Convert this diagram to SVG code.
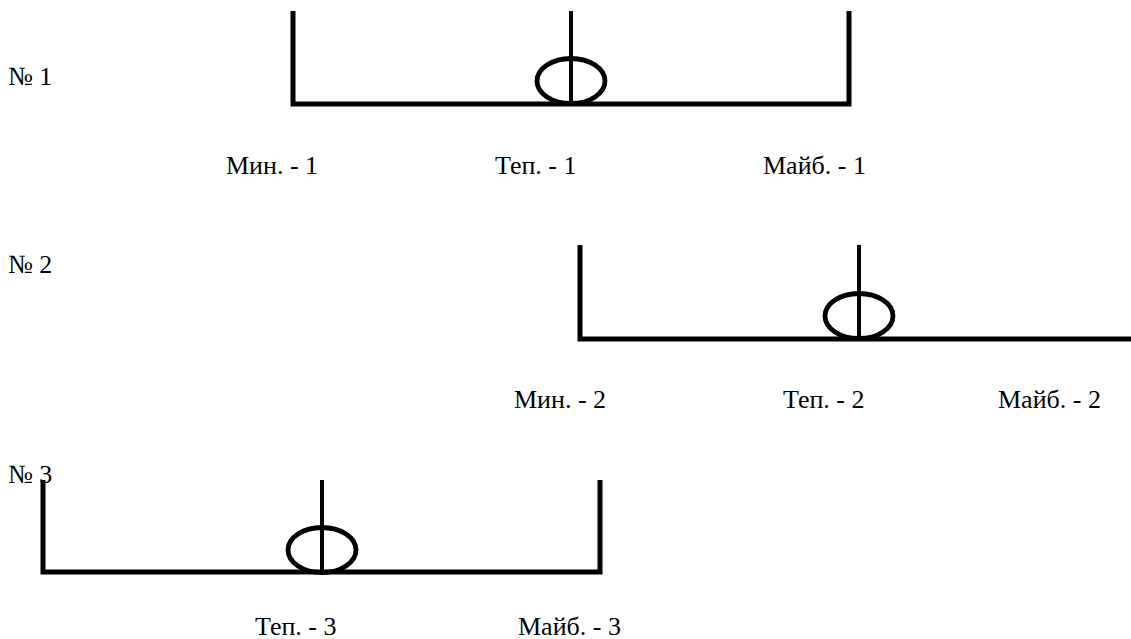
<svg xmlns="http://www.w3.org/2000/svg" width="1131" height="639" viewBox="0 0 1131 639">
<style>
.frame{fill:none;stroke:#000;stroke-width:5;stroke-linejoin:miter;stroke-linecap:butt}
.ball{fill:none;stroke:#000;stroke-width:4.8}
.rod{stroke:#000;stroke-width:4}
text{font-family:"Liberation Serif","Times New Roman",serif;font-size:26px;fill:#000}
</style>
<rect width="1131" height="639" fill="#fff"/>
<g id="fig1">
<text x="8" y="85">№ 1</text>
<polyline class="frame" points="293,11 293,104 849,104 849,11"/>
<ellipse class="ball" cx="571" cy="81" rx="34" ry="22.5"/>
<line class="rod" x1="571" y1="11" x2="571" y2="106"/>
<text x="226" y="174">Мин. - 1</text>
<text x="495" y="174">Теп. - 1</text>
<text x="763" y="174">Майб. - 1</text>
</g>
<g id="fig2">
<text x="8" y="273">№ 2</text>
<polyline class="frame" points="580,245 580,339 1131,339"/>
<ellipse class="ball" cx="859" cy="316" rx="34" ry="22.5"/>
<line class="rod" x1="859" y1="245" x2="859" y2="341"/>
<text x="514" y="408">Мин. - 2</text>
<text x="783" y="408">Теп. - 2</text>
<text x="998" y="408">Майб. - 2</text>
</g>
<g id="fig3">
<polyline class="frame" points="43,480 43,572 600,572 600,480"/>
<ellipse class="ball" cx="322" cy="550" rx="34" ry="22.5"/>
<line class="rod" x1="322" y1="480" x2="322" y2="574"/>
<text x="8" y="483">№ 3</text>
<text x="255" y="635">Теп. - 3</text>
<text x="518" y="635">Майб. - 3</text>
</g>
</svg>
